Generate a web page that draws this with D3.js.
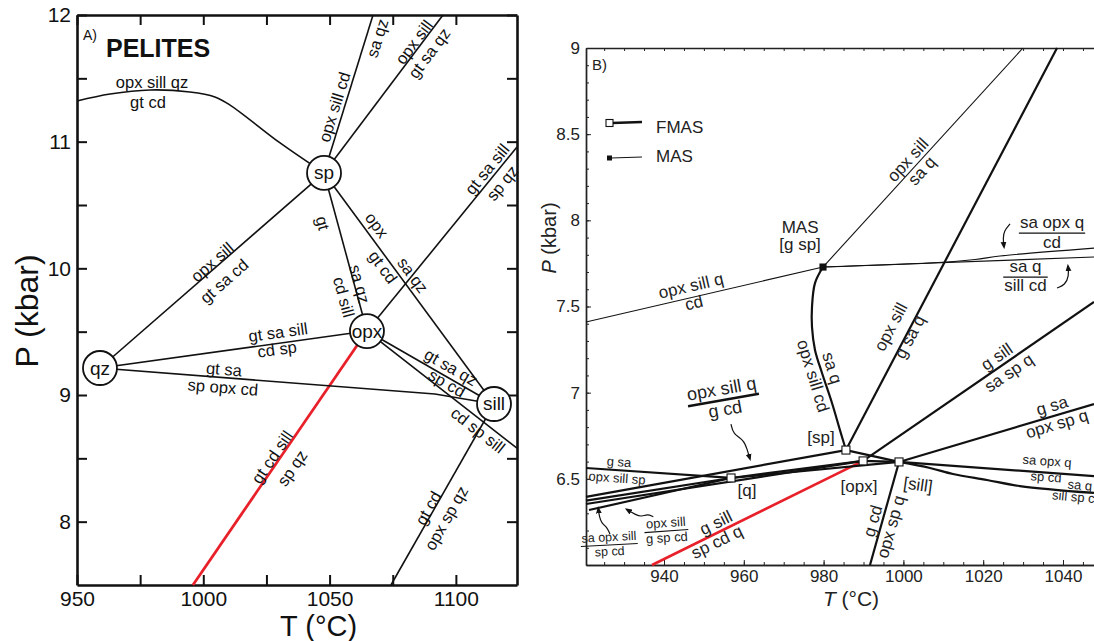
<!DOCTYPE html>
<html>
<head>
<meta charset="utf-8">
<script src="https://cdn.jsdelivr.net/npm/d3@7"></script>
<style>
body { margin: 0; background: #fff; }
svg { display: block; font-family: "Liberation Sans", Arial, Helvetica, sans-serif; }
.pa text { fill: #111; }
.pb text { fill: #222; }
</style>
</head>
<body>
<svg id="chart" width="1094" height="641"></svg>
<script>
// ---------------- data: panel A (pelites), T in C, P in kbar ----------------
const invA = [
  {name: 'sp', T: 1047.8, P: 10.753},
  {name: 'opx', T: 1064.8, P: 9.505},
  {name: 'sill', T: 1115.1, P: 8.929},
  {name: 'qz', T: 959.1, P: 9.213}
];

const curvesA = [
  {id: 'a1', pts: [[950, 11.321], [963.1, 11.376], [978.9, 11.408], [994.7, 11.392], [1004.6, 11.353], [1010.6, 11.289], [1030.4, 10.99], 'sp'], smooth: true},
  {id: 'a2', pts: ['sp', [1067.2, 12]]},
  {id: 'a3', pts: ['sp', [1094.9, 12]]},
  {id: 'a4', pts: ['sp', 'qz']},
  {id: 'a5', pts: ['sp', 'opx']},
  {id: 'a6', pts: ['sp', 'sill']},
  {id: 'a7', pts: ['opx', [1124.2, 10.958]]},
  {id: 'a8', pts: [[995.9, 7.5], 'opx'], hl: true},
  {id: 'a9', pts: ['qz', 'opx']},
  {id: 'a10', pts: ['qz', [1091.7, 9.008], 'sill']},
  {id: 'a11', pts: ['opx', 'sill']},
  {id: 'a12', pts: ['opx', [1124.2, 8.58]]},
  {id: 'a13', pts: ['sill', [1074.3, 7.5]]}
];

const labelsA = [
  {text: 'opx sill qz', T: 979.7, P: 11.471},
  {text: 'gt cd', T: 978.1, P: 11.313},
  {text: 'opx sill cd', T: 1051.8, P: 11.274, on: 'a2'},
  {text: 'sa qz', T: 1068.8, P: 11.818, on: 'a2'},
  {text: 'opx sill', T: 1083.4, P: 11.787, on: 'a3'},
  {text: 'gt sa qz', T: 1089.4, P: 11.700, on: 'a3'},
  {text: 'opx sill', T: 1003.5, P: 10.050, on: 'a4'},
  {text: 'gt sa cd', T: 1008.2, P: 9.900, on: 'a4'},
  {text: 'gt', T: 1047.4, P: 10.358, on: 'a5'},
  {text: 'sa qz', T: 1062.0, P: 9.876, on: 'a5'},
  {text: 'cd sill', T: 1055.7, P: 9.774, on: 'a5'},
  {text: 'opx', T: 1068.8, P: 10.342, on: 'a6'},
  {text: 'gt cd', T: 1071.2, P: 10.011, on: 'a6'},
  {text: 'sa qz', T: 1083.0, P: 9.947, on: 'a6'},
  {text: 'gt sa sill', T: 1112.3, P: 10.784, on: 'a7'},
  {text: 'sp qz', T: 1118.3, P: 10.674, on: 'a7'},
  {text: 'gt cd sill', T: 1027.2, P: 8.511, on: 'a8'},
  {text: 'sp qz', T: 1035.1, P: 8.424, on: 'a8'},
  {text: 'gt sa sill', T: 1029.6, P: 9.497, on: 'a9'},
  {text: 'cd sp', T: 1029.2, P: 9.363, on: 'a9'},
  {text: 'gt sa', T: 1008.2, P: 9.205, on: 'a10'},
  {text: 'sp opx cd', T: 1007.8, P: 9.063, on: 'a10'},
  {text: 'gt sa qz', T: 1098.1, P: 9.221, on: 'a11'},
  {text: 'sp cd', T: 1096.5, P: 9.095, on: 'a11'},
  {text: 'cd sp sill', T: 1108.8, P: 8.724, on: 'a12'},
  {text: 'gt cd', T: 1089.0, P: 8.108, on: 'a13'},
  {text: 'opx sp qz', T: 1096.1, P: 8.029, on: 'a13'}
];

const xTicksA = d3.range(950, 1124, 25);
const yTicksA = d3.range(8, 12.01, 0.5);

// ---------------- data: panel B (FMAS / MAS grid) ----------------
const invB = [
  {name: 'gsp', T: 979.85, P: 7.729, sys: 'MAS'},
  {name: 'sp', T: 985.6, P: 6.667, sys: 'FMAS'},
  {name: 'opx', T: 989.9, P: 6.604, sys: 'FMAS'},
  {name: 'sill', T: 998.9, P: 6.598, sys: 'FMAS'},
  {name: 'q', T: 956.8, P: 6.505, sys: 'FMAS'}
];

const curvesB = [
  {id: 'b1', sys: 'MAS', pts: [[920.45, 7.41], 'gsp']},
  {id: 'b2', sys: 'MAS', pts: ['gsp', [1029.97, 9]]},
  {id: 'b3', sys: 'MAS', pts: ['gsp', [1047.77, 7.787]]},
  {id: 'b4', sys: 'MAS', pts: ['gsp', [1006.66, 7.752], [1017.94, 7.773], [1024.2, 7.793], [1047.77, 7.839]], smooth: true},
  {id: 'b5', sys: 'FMAS', pts: ['gsp', [977.84, 7.636], [977.09, 7.497], [977.09, 7.381], [977.84, 7.248], [979.6, 7.114], [982.1, 6.94], [984.1, 6.783], 'sp'], smooth: true},
  {id: 'b6', sys: 'FMAS', pts: ['sp', [1038.5, 9]]},
  {id: 'b7', sys: 'FMAS', pts: ['opx', [1047.77, 7.526]]},
  {id: 'b8', sys: 'FMAS', pts: ['sill', [1047.77, 6.934]]},
  {id: 'b9', sys: 'FMAS', pts: ['sill', [1047.77, 6.516]]},
  {id: 'b10', sys: 'FMAS', pts: ['sill', [1006.66, 6.563], [1012.42, 6.528], [1020.95, 6.493], [1029.2, 6.458], [1047.77, 6.418]], smooth: true},
  {id: 'b11', sys: 'FMAS', pts: ['sill', [991.63, 6.0]]},
  {id: 'b12', sys: 'FMAS', pts: [[937.0, 6.0], 'opx'], hl: true},
  {id: 'b13', sys: 'FMAS', pts: ['sp', 'sill']},
  {id: 'b14', sys: 'FMAS', pts: ['opx', 'sill']},
  {id: 'b15', sys: 'FMAS', pts: ['sp', [920.45, 6.395]]},
  {id: 'b16', sys: 'FMAS', pts: [[920.45, 6.563], 'q']},
  {id: 'b17', sys: 'FMAS', pts: ['q', 'opx']},
  {id: 'b18', sys: 'FMAS', pts: ['q', [920.45, 6.374]]},
  {id: 'b19', sys: 'FMAS', pts: ['q', [921.2, 6.319]]},
  {id: 'b20', sys: 'FMAS', pts: ['q', 'sill']},
  {id: 'b21', sys: 'FMAS', pts: ['opx', [920.45, 6.354]]}
];

const labelsB = [
  {text: 'opx sill q', T: 946.77, P: 7.619, on: 'b1'},
  {text: 'cd', T: 947.52, P: 7.520, on: 'b1'},
  {text: 'opx sill', T: 1001.15, P: 8.350, on: 'b2'},
  {text: 'sa q', T: 1004.66, P: 8.286, on: 'b2'},
  {text: 'MAS', T: 974.1, P: 7.961},
  {text: '[g sp]', T: 974.1, P: 7.857},
  {text: 'opx sill cd', T: 977.34, P: 7.097, on: 'b5'},
  {text: 'sa q', T: 982.10, P: 7.143, on: 'b5'},
  {text: 'opx sill', T: 996.89, P: 7.381, on: 'b6'},
  {text: 'g sa q', T: 1001.65, P: 7.323, on: 'b6'},
  {text: 'g sill', T: 1023.46, P: 7.207, on: 'b7'},
  {text: 'sa sp q', T: 1026.46, P: 7.114, on: 'b7'},
  {text: 'g sa', T: 1037.24, P: 6.923, on: 'b8'},
  {text: 'opx sp q', T: 1038.5, P: 6.818, on: 'b8'},
  {text: 'g cd', T: 992.38, P: 6.255, on: 'b11'},
  {text: 'opx sp q', T: 996.89, P: 6.221, on: 'b11'},
  {text: 'g sill', T: 953.03, P: 6.244, on: 'b12'},
  {text: 'sp cd q', T: 953.28, P: 6.133, on: 'b12'},
  {text: '[sp]', T: 979.35, P: 6.737},
  {text: '[q]', T: 960.8, P: 6.435},
  {text: '[opx]', T: 988.87, P: 6.458},
  {text: '[sill]', T: 1003.66, P: 6.464, rot: 8}
];

const smallLabelsB = [
  {text: 'sa opx q', T: 1035.99, P: 6.603, on: 'b9'},
  {text: 'sp cd', T: 1035.74, P: 6.511, on: 'b9'},
  {text: 'sa q', T: 1044.26, P: 6.464, on: 'b10'},
  {text: 'sill sp cd', T: 1043.5, P: 6.394, on: 'b10'},
  {text: 'g sa', T: 928.72, P: 6.598, on: 'b16'},
  {text: 'opx sill sp', T: 928.22, P: 6.505, on: 'b16'}
];

// reaction callouts written as fractions (reactants over products)
const fracB = [
  {top: 'sa opx q', bot: 'cd', T: 1037.25, P: 7.926},
  {top: 'sa q', bot: 'sill cd', T: 1030.6, P: 7.671},
  {top: 'opx sill q', bot: 'g cd', T: 954.91, P: 6.957},
  {top: 'opx sill', bot: 'g sp cd', T: 940.6, P: 6.197},
  {top: 'sa opx sill', bot: 'sp cd', T: 926.3, P: 6.116}
];
const fracStyle = [
  {size: 17, rot: 0, bar: 1.2},
  {size: 17, rot: 0, bar: 1.2},
  {size: 18, rot: -10, bar: 2.6},
  {size: 13, rot: -4, bar: 1.2},
  {size: 12.5, rot: -3, bar: 1.2}
];

// curly pointer arrows, from label to curve
const arrowsB = [
  [[1026.72, 7.979], [1025.22, 7.938], [1024.96, 7.897], [1025.22, 7.845]],
  [[1038.5, 7.607], [1040.5, 7.625], [1041.5, 7.677], [1041.25, 7.735]],
  [[956.79, 6.818], [957.29, 6.760], [960.05, 6.725], [960.8, 6.673], [961.55, 6.615]],
  [[937.32, 6.280], [935.81, 6.296], [934.41, 6.280], [932.98, 6.290], [930.65, 6.323]],
  [[926.46, 6.180], [925.64, 6.222], [924.38, 6.242], [923.78, 6.280], [923.53, 6.329]]
];

const xMajorB = d3.range(940, 1041, 20);
const xMinorB = d3.range(925, 1047, 5);
const yMajorB = [6.5, 7, 7.5, 8, 8.5, 9];
const yMinorB = d3.range(61, 90, 1).map(d => d / 10);

// ---------------- helpers ----------------
const red = '#e8202a';
const svg = d3.select('#chart');
const defs = svg.append('defs');
defs.append('marker')
  .attr('id', 'arrow')
  .attr('viewBox', '0 0 10 10')
  .attr('refX', 7).attr('refY', 5)
  .attr('markerWidth', 6).attr('markerHeight', 6)
  .attr('orient', 'auto')
  .append('path')
  .attr('d', 'M0,1 L10,5 L0,9 z')
  .attr('fill', '#111');

function pt(p, inv) {
  if (typeof p === 'string') {
    const d = inv.find(v => v.name === p);
    return [d.T, d.P];
  }
  return p;
}

function angleAt(pts, px, py) {
  let best = 0, bd = Infinity;
  for (let i = 0; i < pts.length - 1; i++) {
    const [x1, y1] = pts[i], [x2, y2] = pts[i + 1];
    const dx = x2 - x1, dy = y2 - y1;
    let t = ((px - x1) * dx + (py - y1) * dy) / (dx * dx + dy * dy);
    t = Math.max(0, Math.min(1, t));
    const qx = x1 + t * dx, qy = y1 + t * dy;
    const dist = Math.hypot(px - qx, py - qy);
    if (dist < bd) {
      bd = dist;
      let a = Math.atan2(dy, dx) * 180 / Math.PI;
      if (a > 90) a -= 180;
      if (a <= -90) a += 180;
      best = a;
    }
  }
  return best;
}

function drawCurves(g, curves, inv, xs, ys, widthOf) {
  const screen = {};
  curves.forEach(c => {
    const pts = c.pts.map(p => pt(p, inv));
    screen[c.id] = pts.map(p => [xs(p[0]), ys(p[1])]);
    const line = d3.line()
      .x(d => xs(d[0]))
      .y(d => ys(d[1]))
      .curve(c.smooth ? d3.curveCatmullRom.alpha(0.5) : d3.curveLinear);
    g.append('path')
      .attr('d', line(pts))
      .attr('fill', 'none')
      .attr('stroke', c.hl ? red : '#111')
      .attr('stroke-width', widthOf(c))
      .attr('stroke-linejoin', 'round');
  });
  return screen;
}

function drawLabels(g, labels, xs, ys, screen, size) {
  labels.forEach(l => {
    const x = xs(l.T), y = ys(l.P);
    let a = 0;
    if (l.on) a = angleAt(screen[l.on], x, y);
    if (l.rot != null) a = l.rot;
    g.append('text')
      .attr('transform', `translate(${x},${y}) rotate(${a})`)
      .attr('text-anchor', 'middle')
      .attr('dominant-baseline', 'central')
      .attr('font-size', size)
      .text(l.text);
  });
}

// ---------------- panel A ----------------
const xA = d3.scaleLinear().domain([950, 1124.2]).range([77, 517]);
const yA = d3.scaleLinear().domain([7.5, 12]).range([585, 15]);
const gA = svg.append('g').attr('class', 'pa');

function styleAxisA(sel) {
  sel.select('.domain').attr('stroke', '#111').attr('stroke-width', 2.6);
  sel.selectAll('.tick line').attr('stroke', '#111').attr('stroke-width', 2);
  sel.selectAll('.tick text').attr('font-size', 21).attr('fill', '#111');
}

gA.append('g').attr('transform', `translate(0,${yA(7.5)})`)
  .call(d3.axisBottom(xA).tickValues(xTicksA).tickSizeInner(-10).tickSizeOuter(0).tickPadding(6)
    .tickFormat(d => d % 50 === 0 ? d : ''))
  .call(styleAxisA);
gA.append('g').attr('transform', `translate(0,${yA(12)})`)
  .call(d3.axisTop(xA).tickValues(xTicksA).tickSizeInner(-10).tickSizeOuter(0).tickFormat(''))
  .call(styleAxisA);
gA.append('g').attr('transform', `translate(${xA(950)},0)`)
  .call(d3.axisLeft(yA).tickValues(yTicksA).tickSizeInner(-10).tickSizeOuter(0).tickPadding(6)
    .tickFormat(d => Number.isInteger(d) ? d : ''))
  .call(styleAxisA);
gA.append('g').attr('transform', `translate(${xA(1124.2)},0)`)
  .call(d3.axisRight(yA).tickValues(yTicksA).tickSizeInner(-10).tickSizeOuter(0).tickFormat(''))
  .call(styleAxisA);

const screenA = drawCurves(gA, curvesA, invA, xA, yA, c => c.hl ? 2.8 : 1.6);

gA.selectAll('circle.inv')
  .data(invA)
  .enter()
  .append('circle')
  .attr('class', 'inv')
  .attr('cx', d => xA(d.T))
  .attr('cy', d => yA(d.P))
  .attr('r', 17)
  .attr('fill', '#fff')
  .attr('stroke', '#111')
  .attr('stroke-width', 1.8);

gA.selectAll('text.inv')
  .data(invA)
  .enter()
  .append('text')
  .attr('class', 'inv')
  .attr('x', d => xA(d.T))
  .attr('y', d => yA(d.P))
  .attr('text-anchor', 'middle')
  .attr('dominant-baseline', 'central')
  .attr('font-size', 19)
  .text(d => d.name);

drawLabels(gA, labelsA, xA, yA, screenA, 16.5);

gA.append('text').attr('x', 83).attr('y', 40).attr('font-size', 14).text('A)');
gA.append('text').attr('x', 106).attr('y', 57).attr('font-size', 25).attr('font-weight', 'bold').text('PELITES');

gA.append('text')
  .attr('transform', 'translate(38,311) rotate(-90)')
  .attr('text-anchor', 'middle')
  .attr('font-size', 32)
  .text('P (kbar)');
gA.append('text')
  .attr('x', 280).attr('y', 636)
  .attr('font-size', 29)
  .text('T (°C)');

// ---------------- panel B ----------------
const xB = d3.scaleLinear().domain([920.45, 1047.77]).range([586, 1094]);
const yB = d3.scaleLinear().domain([6, 9]).range([565, 48]);
const gB = svg.append('g').attr('class', 'pb');

function styleAxisB(sel) {
  sel.select('.domain').attr('stroke', '#222').attr('stroke-width', 1.4);
  sel.selectAll('.tick line').attr('stroke', '#222').attr('stroke-width', 1);
  sel.selectAll('.tick text').attr('font-size', 17).attr('fill', '#222');
}

gB.append('g').attr('transform', `translate(0,${yB(6)})`)
  .call(d3.axisBottom(xB).tickValues(xMinorB).tickSizeInner(-3).tickSizeOuter(0).tickFormat(''))
  .call(styleAxisB);
gB.append('g').attr('transform', `translate(0,${yB(6)})`)
  .call(d3.axisBottom(xB).tickValues(xMajorB).tickSizeInner(-5).tickSizeOuter(0).tickPadding(5)
    .tickFormat(d3.format('d')))
  .call(styleAxisB);
gB.append('g').attr('transform', `translate(0,${yB(9)})`)
  .call(d3.axisTop(xB).tickValues(xMinorB).tickSizeInner(-3).tickSizeOuter(0).tickFormat(''))
  .call(styleAxisB);
gB.append('g').attr('transform', `translate(${xB(920.45)},0)`)
  .call(d3.axisLeft(yB).tickValues(yMinorB).tickSizeInner(-3).tickSizeOuter(0).tickFormat(''))
  .call(styleAxisB);
gB.append('g').attr('transform', `translate(${xB(920.45)},0)`)
  .call(d3.axisLeft(yB).tickValues(yMajorB).tickSizeInner(-5).tickSizeOuter(0).tickPadding(6)
    .tickFormat(d3.format('')))
  .call(styleAxisB);

const screenB = drawCurves(gB, curvesB, invB, xB, yB, c => c.hl ? 2.6 : (c.sys === 'FMAS' ? 2.2 : 1.1));

// invariant points: open squares FMAS, small filled square MAS
gB.selectAll('rect.inv')
  .data(invB)
  .enter()
  .append('rect')
  .attr('class', 'inv')
  .attr('x', d => xB(d.T) - (d.sys === 'FMAS' ? 4 : 3))
  .attr('y', d => yB(d.P) - (d.sys === 'FMAS' ? 4 : 3))
  .attr('width', d => d.sys === 'FMAS' ? 8 : 6)
  .attr('height', d => d.sys === 'FMAS' ? 8 : 6)
  .attr('fill', d => d.sys === 'FMAS' ? '#fff' : '#111')
  .attr('stroke', '#111')
  .attr('stroke-width', 1.1);

drawLabels(gB, labelsB, xB, yB, screenB, 17);
drawLabels(gB, smallLabelsB, xB, yB, screenB, 13);

// fraction style callouts
fracB.forEach((f, i) => {
  const s = fracStyle[i];
  const g = gB.append('g')
    .attr('transform', `translate(${xB(f.T)},${yB(f.P)}) rotate(${s.rot})`);
  const t1 = g.append('text').attr('text-anchor', 'middle').attr('y', -0.3 * s.size)
    .attr('font-size', s.size).text(f.top);
  const t2 = g.append('text').attr('text-anchor', 'middle').attr('y', 0.85 * s.size)
    .attr('font-size', s.size).text(f.bot);
  const w = Math.max(t1.node().getComputedTextLength(), t2.node().getComputedTextLength()) + 2;
  g.append('line').attr('x1', -w / 2).attr('x2', w / 2).attr('y1', 0).attr('y2', 0)
    .attr('stroke', '#111').attr('stroke-width', s.bar);
});

const arrowLine = d3.line().x(d => xB(d[0])).y(d => yB(d[1])).curve(d3.curveBasis);
arrowsB.forEach(a => {
  gB.append('path')
    .attr('d', arrowLine(a))
    .attr('fill', 'none')
    .attr('stroke', '#111')
    .attr('stroke-width', 1.2)
    .attr('marker-end', 'url(#arrow)');
});

// legend
const legend = gB.append('g');
legend.append('line').attr('x1', 612).attr('x2', 642).attr('y1', 123).attr('y2', 122)
  .attr('stroke', '#111').attr('stroke-width', 2.4);
legend.append('rect').attr('x', 606).attr('y', 119.5).attr('width', 7).attr('height', 7)
  .attr('fill', '#fff').attr('stroke', '#111').attr('stroke-width', 1.1);
legend.append('text').attr('x', 656).attr('y', 133).attr('font-size', 17).text('FMAS');
legend.append('line').attr('x1', 611).attr('x2', 642).attr('y1', 158).attr('y2', 157)
  .attr('stroke', '#111').attr('stroke-width', 1);
legend.append('rect').attr('x', 607).attr('y', 155.5).attr('width', 5).attr('height', 5)
  .attr('fill', '#111');
legend.append('text').attr('x', 656).attr('y', 162).attr('font-size', 17).text('MAS');

gB.append('text').attr('x', 592).attr('y', 70).attr('font-size', 15).text('B)');

const pLab = gB.append('text')
  .attr('transform', 'translate(556,238) rotate(-90)')
  .attr('text-anchor', 'middle')
  .attr('font-size', 20);
pLab.append('tspan').attr('font-style', 'italic').text('P');
pLab.append('tspan').text(' (kbar)');

const tLab = gB.append('text')
  .attr('x', 851).attr('y', 606)
  .attr('text-anchor', 'middle')
  .attr('font-size', 21);
tLab.append('tspan').attr('font-style', 'italic').text('T');
tLab.append('tspan').text(' (°C)');
</script>
</body>
</html>
